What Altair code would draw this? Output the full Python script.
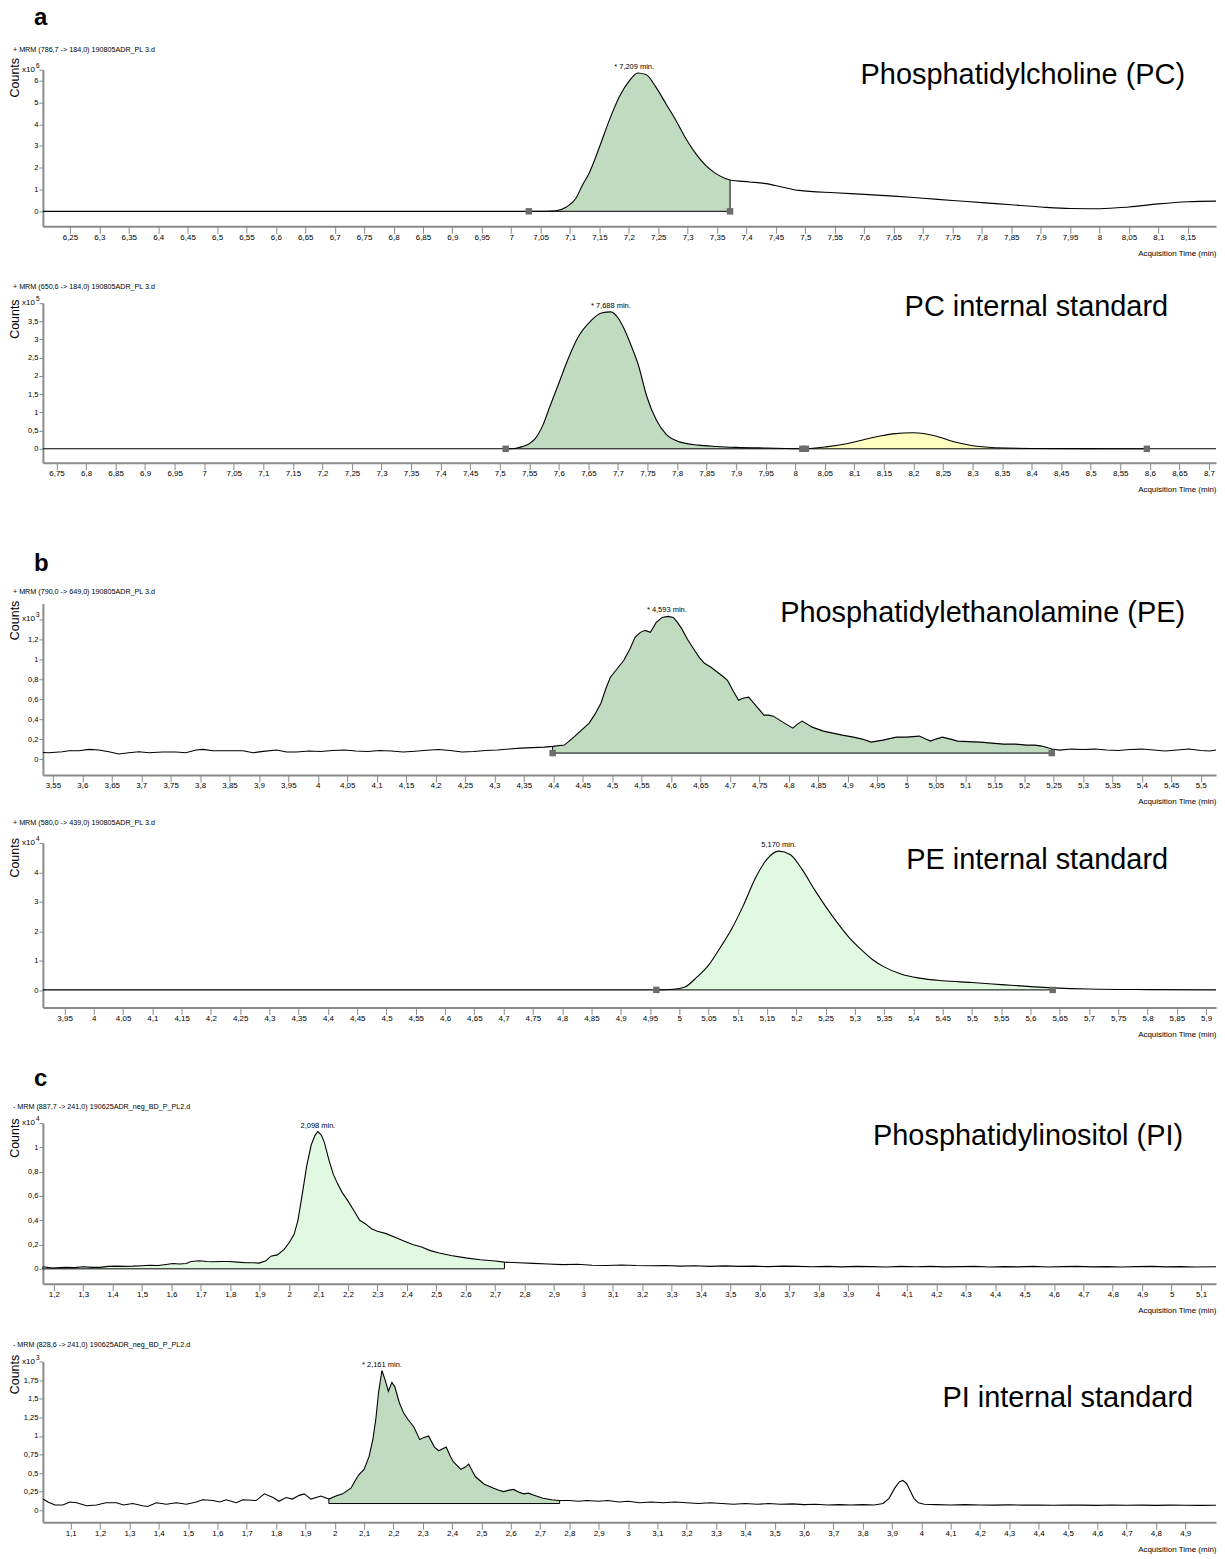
import altair as alt
import pandas as pd

NARROW = "Liberation Sans Narrow, Liberation Sans, Arial, sans-serif"
SANS = "Liberation Sans, Arial, Helvetica, sans-serif"
GREY = "#8a8a8a"
DARK = "#c1dbc1"
LIGHT = "#e1f8e1"
YELLOW = "#ffffc2"
MARK_GREY = "#6c6c6c"
W = 1176

# ---------------- a: Phosphatidylcholine (PC), counts x10^6 ----------------
pc_points = [(6.204, 0), (6.60, 0), (7.00, 0), (7.03, 0), (7.06, 0.005), (7.076, 0.03), (7.094, 0.2),
             (7.11, 0.6), (7.121, 1.2), (7.132, 1.73), (7.15, 2.95), (7.167, 4.2), (7.184, 5.27),
             (7.201, 6.0), (7.215, 6.35), (7.229, 6.28), (7.246, 5.7), (7.263, 4.94), (7.28, 4.17),
             (7.297, 3.33), (7.314, 2.64), (7.331, 2.1), (7.348, 1.73), (7.365, 1.5), (7.372, 1.44),
             (7.405, 1.35), (7.433, 1.27), (7.46, 1.12), (7.489, 0.96), (7.55, 0.85), (7.60, 0.78),
             (7.65, 0.7), (7.70, 0.6), (7.75, 0.5), (7.80, 0.4), (7.85, 0.3), (7.90, 0.2), (7.95, 0.13),
             (8.00, 0.12), (8.05, 0.2), (8.10, 0.34), (8.15, 0.44), (8.198, 0.47)]
pc_areas = [(7.03, 7.372, 0.0, DARK)]
pc_markers = [(7.03, 0.0), (7.372, 0.0)]
pc_peak = [(7.209, 6.35, "* 7,209 min.")]

# ---------------- PC internal standard, counts x10^5 ----------------
pcis_points = [(6.727, 0), (7.2, 0), (7.51, 0), (7.525, 0.01), (7.538, 0.06), (7.55, 0.14), (7.561, 0.3),
               (7.573, 0.65), (7.585, 1.17), (7.60, 1.8), (7.616, 2.48), (7.632, 3.05), (7.655, 3.53),
               (7.672, 3.73), (7.688, 3.76), (7.70, 3.6), (7.71, 3.31), (7.722, 2.85), (7.734, 2.33),
               (7.749, 1.43), (7.765, 0.79), (7.781, 0.41), (7.804, 0.19), (7.836, 0.1), (7.867, 0.064),
               (7.90, 0.04), (7.95, 0.02), (8.015, 0.0), (8.055, 0.06), (8.087, 0.14), (8.126, 0.29),
               (8.165, 0.41), (8.20, 0.44), (8.236, 0.36), (8.267, 0.2), (8.298, 0.09), (8.338, 0.03),
               (8.40, 0.01), (8.50, 0.005), (8.595, 0.0), (8.712, 0.0)]
pcis_areas = [(7.51, 8.015, 0.0, DARK), (8.015, 8.595, 0.0, YELLOW)]
pcis_markers = [(7.51, 0.0), (8.012, 0.0), (8.018, 0.0), (8.595, 0.0)]
pcis_peak = [(7.688, 3.76, "* 7,688 min.")]

# ---------------- b: Phosphatidylethanolamine (PE), counts x10^3 ----------------
pe_points = [(3.533, 0.065), (3.543, 0.063), (3.566, 0.073), (3.577, 0.083), (3.594, 0.083), (3.611, 0.097),
             (3.628, 0.09), (3.645, 0.073), (3.662, 0.05), (3.679, 0.063), (3.696, 0.073), (3.713, 0.063),
             (3.736, 0.07), (3.759, 0.07), (3.776, 0.063), (3.793, 0.09), (3.805, 0.097), (3.822, 0.083),
             (3.85, 0.083), (3.873, 0.083), (3.89, 0.063), (3.907, 0.077), (3.93, 0.09), (3.947, 0.07),
             (3.964, 0.07), (3.985, 0.08), (4.005, 0.075), (4.025, 0.085), (4.045, 0.09), (4.065, 0.08),
             (4.085, 0.075), (4.105, 0.085), (4.125, 0.08), (4.145, 0.07), (4.165, 0.078), (4.185, 0.088),
             (4.205, 0.095), (4.225, 0.085), (4.245, 0.07), (4.265, 0.075), (4.285, 0.085), (4.305, 0.09),
             (4.325, 0.1), (4.345, 0.11), (4.365, 0.115), (4.385, 0.12), (4.399, 0.127), (4.419, 0.14),
             (4.435, 0.22), (4.448, 0.29), (4.461, 0.36), (4.471, 0.45), (4.481, 0.56), (4.489, 0.7),
             (4.497, 0.82), (4.508, 0.9), (4.52, 0.99), (4.53, 1.1), (4.539, 1.22), (4.548, 1.27),
             (4.556, 1.29), (4.565, 1.27), (4.575, 1.37), (4.585, 1.42), (4.595, 1.43), (4.604, 1.42),
             (4.611, 1.37), (4.618, 1.31), (4.628, 1.2), (4.64, 1.09), (4.648, 1.02), (4.657, 0.96),
             (4.668, 0.92), (4.679, 0.87), (4.688, 0.83), (4.696, 0.79), (4.705, 0.69), (4.715, 0.59),
             (4.722, 0.61), (4.732, 0.62), (4.745, 0.53), (4.758, 0.44), (4.766, 0.44), (4.774, 0.43),
             (4.79, 0.37), (4.807, 0.31), (4.815, 0.35), (4.823, 0.38), (4.84, 0.32), (4.859, 0.28),
             (4.875, 0.26), (4.891, 0.24), (4.91, 0.22), (4.925, 0.2), (4.94, 0.17), (4.96, 0.19),
             (4.983, 0.22), (5.0, 0.22), (5.022, 0.23), (5.033, 0.2), (5.041, 0.18), (5.05, 0.2),
             (5.061, 0.22), (5.075, 0.2), (5.087, 0.18), (5.105, 0.175), (5.126, 0.17), (5.145, 0.16),
             (5.165, 0.15), (5.185, 0.15), (5.204, 0.14), (5.218, 0.14), (5.23, 0.13), (5.247, 0.1),
             (5.26, 0.09), (5.28, 0.1), (5.3, 0.095), (5.32, 0.1), (5.34, 0.09), (5.36, 0.085),
             (5.38, 0.095), (5.40, 0.1), (5.42, 0.09), (5.44, 0.08), (5.46, 0.09), (5.48, 0.1),
             (5.50, 0.085), (5.515, 0.08), (5.526, 0.09)]
pe_areas = [(4.399, 5.247, 0.06, DARK)]
pe_markers = [(4.399, 0.06), (5.247, 0.06)]
pe_peak = [(4.593, 1.43, "* 4,593 min.")]

# ---------------- PE internal standard, counts x10^4 ----------------
peis_points = [(3.913, 0.02), (4.1, 0.02), (4.3, 0.02), (4.5, 0.022), (4.7, 0.02), (4.9, 0.02), (4.961, 0.02),
               (4.99, 0.04), (5.01, 0.12), (5.03, 0.45), (5.05, 0.85), (5.07, 1.45), (5.09, 2.1), (5.11, 2.9),
               (5.13, 3.8), (5.15, 4.45), (5.17, 4.72), (5.19, 4.6), (5.21, 4.1), (5.23, 3.45), (5.25, 2.85),
               (5.27, 2.3), (5.29, 1.8), (5.31, 1.4), (5.33, 1.05), (5.35, 0.8), (5.38, 0.55), (5.41, 0.42),
               (5.45, 0.33), (5.5, 0.27), (5.55, 0.2), (5.6, 0.13), (5.638, 0.09), (5.7, 0.05), (5.8, 0.03),
               (5.917, 0.02)]
peis_areas = [(4.961, 5.638, 0.02, LIGHT)]
peis_markers = [(4.961, 0.02), (5.638, 0.02)]
peis_peak = [(5.170, 4.72, "5,170 min.")]

# ---------------- c: Phosphatidylinositol (PI), counts x10^4 ----------------
pi_points = [(1.163, 0.017), (1.197, 0.006), (1.22, 0.01), (1.242, 0.012), (1.27, 0.01), (1.3, 0.017),
             (1.33, 0.012), (1.356, 0.012), (1.385, 0.02), (1.412, 0.022), (1.44, 0.02), (1.469, 0.022),
             (1.5, 0.026), (1.525, 0.03), (1.555, 0.028), (1.582, 0.036), (1.605, 0.044), (1.627, 0.04),
             (1.65, 0.044), (1.667, 0.06), (1.695, 0.066), (1.72, 0.06), (1.74, 0.058), (1.77, 0.06),
             (1.797, 0.06), (1.825, 0.055), (1.853, 0.05), (1.878, 0.05), (1.898, 0.047), (1.921, 0.066),
             (1.938, 0.104), (1.96, 0.115), (1.983, 0.16), (2.0, 0.215), (2.017, 0.284), (2.03, 0.4),
             (2.045, 0.62), (2.06, 0.85), (2.075, 1.02), (2.088, 1.1), (2.098, 1.13), (2.11, 1.1),
             (2.12, 1.04), (2.135, 0.9), (2.15, 0.78), (2.165, 0.7), (2.18, 0.63), (2.2, 0.56), (2.22, 0.48),
             (2.24, 0.4), (2.26, 0.37), (2.28, 0.33), (2.3, 0.31), (2.33, 0.29), (2.36, 0.26), (2.39, 0.23),
             (2.42, 0.2), (2.45, 0.18), (2.48, 0.15), (2.51, 0.13), (2.55, 0.11), (2.6, 0.09), (2.65, 0.075),
             (2.7, 0.065), (2.732, 0.055), (2.78, 0.05), (2.83, 0.045), (2.88, 0.04), (2.93, 0.035),
             (2.98, 0.038), (3.03, 0.03), (3.08, 0.028), (3.13, 0.032), (3.18, 0.027), (3.23, 0.025),
             (3.28, 0.028), (3.33, 0.022), (3.38, 0.025), (3.43, 0.02), (3.48, 0.024), (3.53, 0.02),
             (3.58, 0.022), (3.63, 0.018), (3.68, 0.022), (3.73, 0.02), (3.78, 0.017), (3.83, 0.02),
             (3.88, 0.016), (3.93, 0.02), (3.98, 0.018), (4.03, 0.015), (4.08, 0.02), (4.13, 0.017),
             (4.18, 0.02), (4.23, 0.016), (4.28, 0.018), (4.33, 0.02), (4.38, 0.015), (4.43, 0.018),
             (4.48, 0.016), (4.53, 0.02), (4.58, 0.015), (4.63, 0.018), (4.68, 0.02), (4.73, 0.016),
             (4.78, 0.018), (4.83, 0.015), (4.88, 0.018), (4.93, 0.02), (4.98, 0.016), (5.03, 0.018),
             (5.08, 0.015), (5.151, 0.017)]
pi_areas = [(1.163, 2.732, 0.0, LIGHT)]
pi_markers = []
pi_peak = [(2.098, 1.13, "2,098 min.")]

# ---------------- PI internal standard, counts x10^3 ----------------
piis_points = [(1.006, 0.15), (1.022, 0.11), (1.046, 0.07), (1.073, 0.07), (1.097, 0.11), (1.12, 0.1),
               (1.154, 0.06), (1.188, 0.07), (1.22, 0.1), (1.256, 0.1), (1.28, 0.07), (1.311, 0.09),
               (1.345, 0.06), (1.362, 0.05), (1.392, 0.1), (1.426, 0.08), (1.46, 0.1), (1.494, 0.08),
               (1.528, 0.11), (1.55, 0.14), (1.585, 0.13), (1.608, 0.11), (1.63, 0.14), (1.664, 0.1),
               (1.687, 0.14), (1.732, 0.13), (1.76, 0.22), (1.79, 0.17), (1.81, 0.12), (1.834, 0.17),
               (1.856, 0.15), (1.879, 0.2), (1.896, 0.22), (1.919, 0.15), (1.953, 0.19), (1.98, 0.15),
               (2.004, 0.19), (2.027, 0.22), (2.056, 0.3), (2.07, 0.4), (2.083, 0.48), (2.1, 0.55),
               (2.117, 0.72), (2.13, 0.95), (2.14, 1.22), (2.15, 1.6), (2.161, 1.88), (2.172, 1.75),
               (2.183, 1.6), (2.195, 1.72), (2.205, 1.66), (2.22, 1.45), (2.236, 1.3), (2.25, 1.22),
               (2.27, 1.12), (2.29, 0.95), (2.305, 0.98), (2.32, 1.0), (2.34, 0.85), (2.355, 0.8),
               (2.38, 0.85), (2.395, 0.72), (2.405, 0.65), (2.43, 0.55), (2.445, 0.58), (2.457, 0.62),
               (2.47, 0.52), (2.48, 0.45), (2.51, 0.35), (2.54, 0.3), (2.56, 0.27), (2.576, 0.25),
               (2.595, 0.27), (2.61, 0.28), (2.63, 0.24), (2.645, 0.22), (2.66, 0.23), (2.68, 0.2),
               (2.71, 0.16), (2.74, 0.14), (2.767, 0.13), (2.8, 0.13), (2.83, 0.12), (2.86, 0.13), (2.9, 0.12),
               (2.93, 0.13), (2.97, 0.11), (3.0, 0.12), (3.04, 0.1), (3.08, 0.11), (3.12, 0.1), (3.16, 0.11),
               (3.2, 0.1), (3.24, 0.09), (3.28, 0.1), (3.32, 0.09), (3.36, 0.08), (3.4, 0.09), (3.44, 0.08),
               (3.48, 0.09), (3.52, 0.08), (3.56, 0.085), (3.6, 0.075), (3.64, 0.08), (3.68, 0.07),
               (3.72, 0.075), (3.76, 0.07), (3.8, 0.075), (3.84, 0.07), (3.87, 0.09), (3.89, 0.16),
               (3.91, 0.3), (3.925, 0.38), (3.937, 0.4), (3.95, 0.36), (3.96, 0.28), (3.975, 0.16),
               (3.99, 0.1), (4.01, 0.08), (4.05, 0.075), (4.1, 0.07), (4.15, 0.075), (4.2, 0.07),
               (4.25, 0.068), (4.3, 0.072), (4.35, 0.068), (4.4, 0.07), (4.45, 0.066), (4.5, 0.07),
               (4.55, 0.068), (4.6, 0.065), (4.65, 0.07), (4.7, 0.066), (4.75, 0.068), (4.8, 0.065),
               (4.85, 0.068), (4.9, 0.066), (4.95, 0.065), (5.005, 0.067)]
piis_areas = [(1.98, 2.767, 0.09, DARK)]
piis_markers = []
piis_peak = [(2.161, 1.88, "* 2,161 min.")]

# axis tick values
pc_yticks = [0, 1, 2, 3, 4, 5, 6, 6.5]
pcis_yticks = [0, 0.5, 1, 1.5, 2, 2.5, 3, 3.5, 4]
pe_yticks = [0, 0.2, 0.4, 0.6, 0.8, 1, 1.2, 1.4]
peis_yticks = [0, 1, 2, 3, 4, 5]
pi_yticks = [0, 0.2, 0.4, 0.6, 0.8, 1, 1.2]
piis_yticks = [0, 0.25, 0.5, 0.75, 1, 1.25, 1.5, 1.75, 2]


def ticks(start, stop, step):
    n = int(round((stop - start) / step)) + 1
    return [round(start + i * step, 2) for i in range(n)]


LABEL_EXPR = "replace(toString(datum.value), '.', ',')"


def one(**kw):
    return pd.DataFrame({k: [v] for k, v in kw.items()})


def make_panel(points, interp, areas, markers, peak, xdom, ydom, xticks, yticks, blank, expo,
               height, space, header, header_y, counts_y, name, name_x, name_y,
               letter=None, letter_y=0):
    df = pd.DataFrame(points, columns=["t", "v"])
    xs = alt.Scale(domain=xdom, nice=False, zero=False)
    ys = alt.Scale(domain=ydom, nice=False, zero=False)
    xaxis = alt.Axis(values=xticks, labelExpr=LABEL_EXPR, title="Acquisition Time (min)",
                     titleFont=NARROW, titleFontSize=8, titleFontWeight="normal", titleColor="black",
                     titleAnchor="end", titleAlign="right", titlePadding=8,
                     labelFont=NARROW, labelFontSize=8, labelColor="black", labelPadding=0,
                     labelOverlap=False, labelFlush=False, labelBound=False,
                     tickColor=GREY, tickSize=7, tickWidth=1, domainColor=GREY, domainWidth=2, grid=False)
    yaxis = alt.Axis(values=yticks,
                     labelExpr=f"datum.value >= {blank} ? '' : " + LABEL_EXPR,
                     title=None, labelFont=NARROW, labelFontSize=7.5, labelColor="black", labelPadding=1,
                     labelOverlap=False, labelFlush=False, labelBound=False,
                     tickColor=GREY, tickSize=4, tickWidth=1, domainColor=GREY, domainWidth=2, grid=False)

    def X(f):
        return alt.X(f, type="quantitative", scale=xs, axis=xaxis)

    def Y(f):
        return alt.Y(f, type="quantitative", scale=ys, axis=yaxis)

    layers = [alt.Chart(one(s=0)).mark_rule(strokeOpacity=0).encode(
        x=alt.value(-43), x2=alt.value(-42), y=alt.value(-space))]

    base_rows, edge_rows = [], []
    for t0, t1, base, col in areas:
        sub = df[(df.t >= t0) & (df.t <= t1)].copy()
        sub["base"] = base
        layers.append(alt.Chart(sub).mark_area(color=col, opacity=1, interpolate=interp).encode(
            x=X("t"), y=Y("v"), y2=alt.Y2("base:Q")))
        base_rows.append({"t": t0, "t1": t1, "v": base})
        for te in (t0, t1):
            ve = float(df.loc[(df.t - te).abs().idxmin(), "v"])
            edge_rows.append({"t": te, "v": base, "v2": ve})
    if base_rows:
        layers.append(alt.Chart(pd.DataFrame(base_rows)).mark_rule(color="black", strokeWidth=1).encode(
            x=X("t"), x2=alt.X2("t1:Q"), y=Y("v")))
        layers.append(alt.Chart(pd.DataFrame(edge_rows)).mark_rule(color="black", strokeWidth=1).encode(
            x=X("t"), y=Y("v"), y2=alt.Y2("v2:Q")))

    layers.append(alt.Chart(df).mark_line(color="black", strokeWidth=1.1, interpolate=interp).encode(
        x=X("t"), y=Y("v")))

    if markers:
        layers.append(alt.Chart(pd.DataFrame(markers, columns=["t", "v"])).mark_square(
            size=42, color=MARK_GREY, opacity=1).encode(x=X("t"), y=Y("v")))

    layers.append(alt.Chart(pd.DataFrame(peak, columns=["t", "v", "lab"])).mark_text(
        font=NARROW, fontSize=7.5, baseline="bottom", dy=-2, color="black").encode(
        x=X("t"), y=Y("v"), text="lab:N"))

    # decorations
    layers.append(alt.Chart(one(txt=header)).mark_text(
        font=NARROW, fontSize=7.2, align="left", baseline="middle", color="black").encode(
        x=alt.value(-30), y=alt.value(header_y), text="txt:N"))
    layers.append(alt.Chart(one(txt="Counts")).mark_text(
        font=SANS, fontSize=12.5, angle=270, align="center", baseline="middle", color="black").encode(
        x=alt.value(-28), y=alt.value(counts_y), text="txt:N"))
    layers.append(alt.Chart(one(txt="x10", v=blank)).mark_text(
        font=NARROW, fontSize=8, align="right", baseline="middle", color="black").encode(
        x=alt.value(-8), y=Y("v"), text="txt:N"))
    layers.append(alt.Chart(one(txt=expo, v=blank)).mark_text(
        font=NARROW, fontSize=6.5, align="left", baseline="middle", dy=-4, color="black").encode(
        x=alt.value(-7), y=Y("v"), text="txt:N"))
    layers.append(alt.Chart(one(txt=name)).mark_text(
        font=SANS, fontSize=29, align="right", baseline="alphabetic", color="black").encode(
        x=alt.value(name_x), y=alt.value(name_y), text="txt:N"))
    if letter:
        layers.append(alt.Chart(one(txt=letter)).mark_text(
            font=SANS, fontSize=24, fontWeight="bold", align="left", baseline="alphabetic",
            color="black").encode(x=alt.value(-9), y=alt.value(letter_y), text="txt:N"))

    return alt.layer(*layers).properties(width=W, height=height)


p1 = make_panel(pc_points, "monotone", pc_areas, pc_markers, pc_peak, [6.204, 8.198], [-0.69, 6.5],
                ticks(6.25, 8.15, 0.05), pc_yticks, 6.5, "6", 157, 68,
                "+ MRM (786,7 -> 184,0) 190805ADR_PL 3.d", -20, 8,
                "Phosphatidylcholine (PC)", 1145, 14, letter="a", letter_y=-45)
p2 = make_panel(pcis_points, "monotone", pcis_areas, pcis_markers, pcis_peak, [6.727, 8.712], [-0.384, 4.0],
                ticks(6.75, 8.7, 0.05), pcis_yticks, 4, "5", 160, 46,
                "+ MRM (650,6 -> 184,0) 190805ADR_PL 3.d", -16, 16,
                "PC internal standard", 1128, 13)
p3 = make_panel(pe_points, "linear", pe_areas, pe_markers, pe_peak, [3.533, 5.526], [-0.16, 1.56],
                ticks(3.55, 5.5, 0.05), pe_yticks, 1.4, "3", 172, 110,
                "+ MRM (790,0 -> 649,0) 190805ADR_PL 3.d", -11, 17,
                "Phosphatidylethanolamine (PE)", 1145, 19, letter="b", letter_y=-33)
p4 = make_panel(peis_points, "monotone", peis_areas, peis_markers, peis_peak, [3.913, 5.917], [-0.574, 5.0],
                ticks(3.95, 5.9, 0.05), peis_yticks, 5, "4", 165, 37,
                "+ MRM (580,0 -> 439,0) 190805ADR_PL 3.d", -20, 15,
                "PE internal standard", 1128, 26)
p5 = make_panel(pi_points, "linear", pi_areas, pi_markers, pi_peak, [1.163, 5.151], [-0.123, 1.2],
                ticks(1.2, 5.1, 0.1), pi_yticks, 1.2, "4", 161, 85,
                "- MRM (887,7 -> 241,0) 190625ADR_neg_BD_P_PL2.d", -16, 15,
                "Phosphatidylinositol (PI)", 1143, 22, letter="c", letter_y=-37)
p6 = make_panel(piis_points, "linear", piis_areas, piis_markers, piis_peak, [1.005, 5.005], [-0.161, 2.0],
                ticks(1.1, 4.9, 0.1), piis_yticks, 2, "3", 161, 47,
                "- MRM (828,6 -> 241,0) 190625ADR_neg_BD_P_PL2.d", -17, 13,
                "PI internal standard", 1153, 46)

chart = alt.vconcat(p1, p2, p3, p4, p5, p6, spacing=0).configure_view(stroke=None).properties(
    padding={"left": 0, "top": 0, "right": 6, "bottom": 6}, background="white")

chart.save("out.html", embed_options={"renderer": "svg", "actions": False})
